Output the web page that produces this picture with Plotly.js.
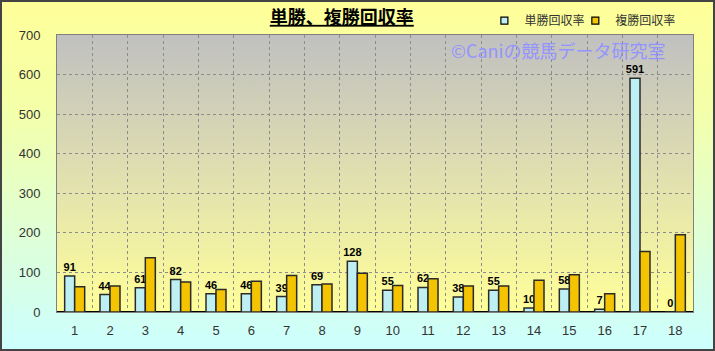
<!DOCTYPE html>
<html>
<head>
<meta charset="utf-8">
<script src="https://cdn.plot.ly/plotly-3.0.1.min.js"></script>
<style>
  html, body { margin: 0; padding: 0; }
  #wrap { position: relative; width: 715px; height: 351px; }
  #chart { width: 715px; height: 351px; background: linear-gradient(to bottom, #FFFF99 0%, #F4FFA8 30%, #CCFFFF 100%); }
  #frame { position: absolute; left: 0; top: 0; width: 715px; height: 351px; box-sizing: border-box; border: 2px solid #444; pointer-events: none; }
</style>
</head>
<body>
<div id="wrap"><div id="chart"></div><div id="frame"></div></div>
<script>
const categories = ['1','2','3','4','5','6','7','8','9','10','11','12','13','14','15','16','17','18'];
const winReturn = [91, 44, 61, 82, 46, 46, 39, 69, 128, 55, 62, 38, 55, 10, 58, 7, 591, 0];
const placeReturn = [64, 66, 137, 76, 57, 78, 92, 71, 98, 67, 84, 66, 66, 80, 94, 46, 153, 195];
const seriesNames = ['単勝回収率', '複勝回収率'];
const yTicks = [0, 100, 200, 300, 400, 500, 600, 700];
const titleText = '単勝、複勝回収率';
const watermark = '©Caniの競馬データ研究室';

const xs = categories.map(c => Number(c));

const gradSvg = "<svg xmlns='http://www.w3.org/2000/svg' width='100' height='100' preserveAspectRatio='none' viewBox='0 0 100 100'><defs><linearGradient id='g' x1='0' y1='0' x2='0' y2='1'><stop offset='0' stop-color='#C0C0C0'/><stop offset='0.5' stop-color='#E0DFB0'/><stop offset='1' stop-color='#FFFF99'/></linearGradient></defs><rect width='100' height='100' fill='url(#g)'/></svg>";

const legendFont = { family: 'Noto Sans CJK JP, sans-serif', size: 12, color: '#333' };

const traces = [
  {
    type: 'bar', x: xs, y: winReturn, name: seriesNames[0], showlegend: false,
    marker: { color: '#BDEFF3', line: { color: '#2a2a2a', width: 1.5 } },
    text: winReturn.map(String), textposition: 'outside', constraintext: 'none', cliponaxis: false,
    textfont: { family: 'Liberation Sans, Arial, sans-serif', size: 11, color: '#000', weight: 'bold' },
    hoverinfo: 'skip'
  },
  {
    type: 'bar', x: xs, y: placeReturn, name: seriesNames[1], showlegend: false,
    marker: { color: '#F5C400', line: { color: '#2a2a2a', width: 1.5 } },
    hoverinfo: 'skip'
  },
  {
    type: 'scatter', mode: 'markers', x: [null], y: [null], name: seriesNames[0], legend: 'legend',
    marker: { symbol: 'square', size: 7, color: '#BDEFF3', line: { color: '#000', width: 1.2 } }
  },
  {
    type: 'scatter', mode: 'markers', x: [null], y: [null], name: seriesNames[1], legend: 'legend2',
    marker: { symbol: 'square', size: 7, color: '#F5C400', line: { color: '#000', width: 1.2 } }
  }
];

const layout = {
  width: 715, height: 351,
  margin: { l: 57, r: 22, t: 35, b: 39, autoexpand: false },
  paper_bgcolor: 'rgba(0,0,0,0)',
  plot_bgcolor: 'rgba(0,0,0,0)',
  barmode: 'group', bargap: 0.434, bargroupgap: 0,
  title: {
    text: '<b><u>' + titleText + '</u></b>',
    x: 0.478, xanchor: 'center', xref: 'container',
    y: 0.95, yanchor: 'middle', yref: 'container',
    font: { family: 'Noto Sans CJK JP, sans-serif', size: 18, color: '#000' }
  },
  showlegend: true,
  legend: {
    orientation: 'h', x: 0.672, xanchor: 'left', y: 1.052, yanchor: 'middle',
    bgcolor: 'rgba(0,0,0,0)', font: legendFont, itemwidth: 30
  },
  legend2: {
    orientation: 'h', x: 0.815, xanchor: 'left', y: 1.052, yanchor: 'middle',
    bgcolor: 'rgba(0,0,0,0)', font: legendFont, itemwidth: 30
  },
  xaxis: {
    range: [0.5, 18.5], tickmode: 'array', tickvals: xs, ticktext: categories,
    showgrid: false, zeroline: false,
    showline: true, mirror: true, linecolor: '#808080', linewidth: 1,
    ticks: 'outside', ticklen: 6, tickcolor: 'rgba(0,0,0,0)',
    tickfont: { family: 'Liberation Sans, Arial, sans-serif', size: 13, color: '#333' },
    minor: { tickmode: 'array', tickvals: xs.map(v => v + 0.5), showgrid: true, gridcolor: '#8c8c8c', griddash: 'dot', gridwidth: 1, ticks: '' },
    fixedrange: true
  },
  yaxis: {
    range: [0, 700], tickmode: 'array', tickvals: yTicks,
    showgrid: true, gridcolor: '#8c8c8c', griddash: 'dot', gridwidth: 1,
    zeroline: true, zerolinecolor: '#000', zerolinewidth: 1.5,
    showline: true, mirror: true, linecolor: '#808080', linewidth: 1,
    ticks: 'outside', ticklen: 13, tickcolor: 'rgba(0,0,0,0)',
    tickfont: { family: 'Liberation Sans, Arial, sans-serif', size: 13, color: '#333' },
    fixedrange: true
  },
  images: [{
    source: 'data:image/svg+xml;charset=utf-8,' + encodeURIComponent(gradSvg),
    xref: 'paper', yref: 'paper', x: 0, y: 1, sizex: 1, sizey: 1,
    xanchor: 'left', yanchor: 'top', sizing: 'stretch', layer: 'below'
  }],
  annotations: [{
    text: watermark, xref: 'paper', yref: 'paper', x: 0.789, y: 0.947,
    xanchor: 'center', yanchor: 'middle', showarrow: false,
    font: { family: 'Noto Sans CJK JP, sans-serif', size: 18, color: '#9494FF' }
  }]
};

Plotly.newPlot('chart', traces, layout, { displayModeBar: false, staticPlot: true });
</script>
</body>
</html>
